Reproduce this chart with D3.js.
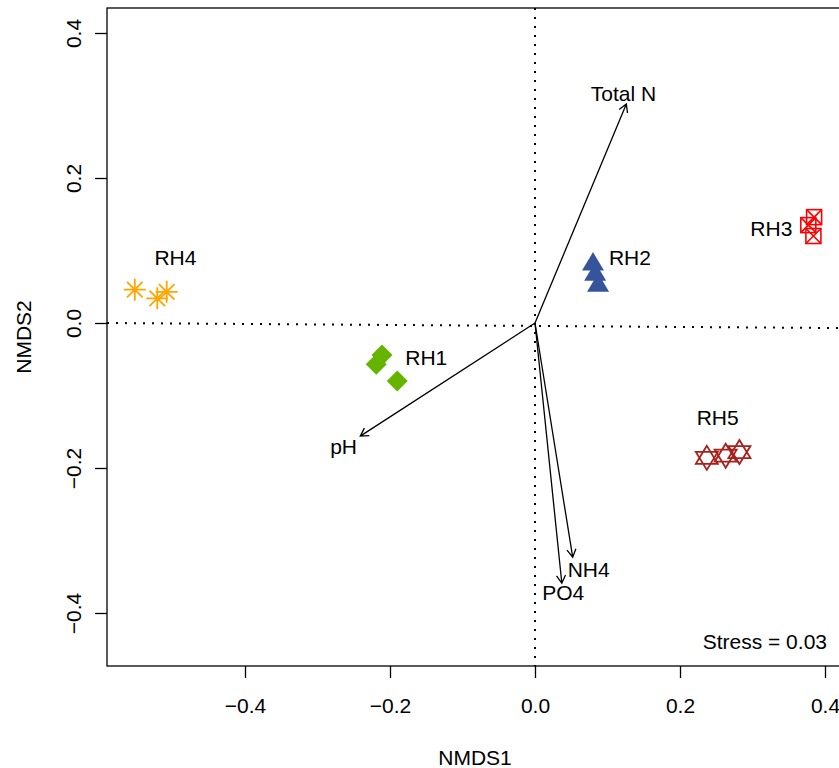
<!DOCTYPE html>
<html>
<head>
<meta charset="utf-8">
<script src="https://cdn.jsdelivr.net/npm/d3@7"></script>
<style>
  body { margin: 0; background: #fff; }
  text { font-family: "Liberation Sans", Arial, sans-serif; }
</style>
</head>
<body>
<div id="chart"></div>
<script>
// SVG size
var svgWidth = 839;
var svgHeight = 768;
var fontSize = 21;

// plot box (right edge runs past the window, as in the reference)
var box = { left: 107, top: 8, right: 843, bottom: 666 };

// ticks
var xTicks = [-0.4, -0.2, 0.0, 0.2, 0.4];
var yTicks = [-0.4, -0.2, 0.0, 0.2, 0.4];

// site scores
var rh4X = [-0.552, -0.521, -0.508];
var rh4Y = [0.046, 0.034, 0.043];
var rh1X = [-0.211, -0.219, -0.190];
var rh1Y = [-0.044, -0.057, -0.080];
var rh2X = [0.080, 0.083, 0.087];
var rh2Y = [0.084, 0.070, 0.055];
var rh3X = [0.385, 0.377, 0.384];
var rh3Y = [0.146, 0.135, 0.120];
var rh5X = [0.237, 0.263, 0.282];
var rh5Y = [-0.186, -0.183, -0.178];

// group labels
var groupNames = ["RH4", "RH1", "RH2", "RH3", "RH5"];
var groupLabelX = [-0.496, -0.150, 0.131, 0.326, 0.252];
var groupLabelY = [0.090, -0.047, 0.091, 0.131, -0.131];

// environmental vectors
var envNames = ["Total N", "pH", "NH4", "PO4"];
var envX = [0.126, -0.241, 0.052, 0.037];
var envY = [0.302, -0.156, -0.323, -0.359];
var envLabelX = [0.122, -0.264, 0.074, 0.039];
var envLabelY = [0.316, -0.170, -0.340, -0.372];

var stressText = "Stress = 0.03";

var x = d3.scaleLinear().domain([-0.4, 0.4]).range([245, 825]);
var y = d3.scaleLinear().domain([-0.4, 0.4]).range([613, 33]);

var svg = d3.select("#chart")
  .append("svg")
  .attr("width", svgWidth)
  .attr("height", svgHeight);

// dotted reference lines
svg.append("line")
  .attr("x1", x(0)).attr("x2", x(0))
  .attr("y1", box.top).attr("y2", box.bottom)
  .attr("stroke", "#000").attr("stroke-width", 2)
  .attr("stroke-dasharray", "2,7");
svg.append("line")
  .attr("x1", box.left).attr("x2", box.right)
  .attr("y1", y(0)).attr("y2", y(-0.007))
  .attr("stroke", "#000").attr("stroke-width", 2)
  .attr("stroke-dasharray", "2,7");

// box
svg.append("rect")
  .attr("x", box.left).attr("y", box.top)
  .attr("width", box.right - box.left).attr("height", box.bottom - box.top)
  .attr("fill", "none").attr("stroke", "#000").attr("stroke-width", 1.3);

// axes
var fmt = d => d3.format(".1f")(d).replace("-", "\u2212");
var bottomAxis = d3.axisBottom(x).tickValues(xTicks).tickSize(12).tickPadding(20).tickFormat(fmt);
var leftAxis = d3.axisLeft(y).tickValues(yTicks).tickSize(12).tickPadding(10).tickFormat(fmt);

var gx = svg.append("g")
  .attr("transform", `translate(0, ${box.bottom})`)
  .call(bottomAxis);
gx.select(".domain").remove();
gx.selectAll("line").attr("stroke-width", 1.3);
gx.selectAll("text").attr("font-size", fontSize).attr("fill", "#000");

var gy = svg.append("g")
  .attr("transform", `translate(${box.left}, 0)`)
  .call(leftAxis);
gy.select(".domain").remove();
gy.selectAll("line").attr("stroke-width", 1.3);
gy.selectAll("text")
  .attr("font-size", fontSize).attr("fill", "#000")
  .attr("text-anchor", "middle")
  .attr("x", null).attr("y", null).attr("dy", null)
  .attr("dominant-baseline", "central")
  .attr("transform", "translate(-34, 0) rotate(-90)");

// axis titles
svg.append("text")
  .attr("x", (box.left + box.right) / 2).attr("y", 757)
  .attr("text-anchor", "middle").attr("dominant-baseline", "central")
  .attr("font-size", fontSize)
  .text("NMDS1");
svg.append("text")
  .attr("transform", `translate(23, ${(box.top + box.bottom) / 2}) rotate(-90)`)
  .attr("text-anchor", "middle").attr("dominant-baseline", "central")
  .attr("font-size", fontSize)
  .text("NMDS2");

// markers
var pts = svg.append("g");

function zipPts(xs, ys) { return xs.map((v, i) => [v, ys[i]]); }

// RH4 asterisks
zipPts(rh4X, rh4Y).forEach(p => {
  var cx = x(p[0]), cy = y(p[1]), a = 11, b = 7.8;
  pts.append("path")
    .attr("d", `M${cx - a},${cy}H${cx + a}M${cx},${cy - a}V${cy + a}` +
               `M${cx - b},${cy - b}L${cx + b},${cy + b}M${cx - b},${cy + b}L${cx + b},${cy - b}`)
    .attr("stroke", "#FFA500").attr("stroke-width", 1.8).attr("fill", "none");
});

// RH1 diamonds
zipPts(rh1X, rh1Y).forEach(p => {
  var cx = x(p[0]), cy = y(p[1]), r = 10.5;
  pts.append("path")
    .attr("d", `M${cx},${cy - r}L${cx + r},${cy}L${cx},${cy + r}L${cx - r},${cy}Z`)
    .attr("fill", "#66B400");
});

// RH2 filled triangles
zipPts(rh2X, rh2Y).forEach(p => {
  var cx = x(p[0]), cy = y(p[1]), w = 11, h = 10;
  pts.append("path")
    .attr("d", `M${cx},${cy - h}L${cx + w},${cy + h * 0.85}L${cx - w},${cy + h * 0.85}Z`)
    .attr("fill", "#36549C");
});

// RH3 boxed crosses
zipPts(rh3X, rh3Y).forEach(p => {
  var cx = x(p[0]), cy = y(p[1]), s = 7.5;
  pts.append("rect")
    .attr("x", cx - s).attr("y", cy - s).attr("width", 2 * s).attr("height", 2 * s)
    .attr("fill", "none").attr("stroke", "#FF0000").attr("stroke-width", 1.6);
  pts.append("path")
    .attr("d", `M${cx - s},${cy - s}L${cx + s},${cy + s}M${cx - s},${cy + s}L${cx + s},${cy - s}`)
    .attr("stroke", "#FF0000").attr("stroke-width", 1.6);
});

// RH5 two-triangle stars
zipPts(rh5X, rh5Y).forEach(p => {
  var cx = x(p[0]), cy = y(p[1]), w = 11, h = 12, k = 6;
  pts.append("path")
    .attr("d", `M${cx},${cy - h}L${cx + w},${cy + k}L${cx - w},${cy + k}Z` +
               `M${cx},${cy + h}L${cx + w},${cy - k}L${cx - w},${cy - k}Z`)
    .attr("fill", "none").attr("stroke", "#A8201C").attr("stroke-width", 1.8);
});

// group labels
svg.append("g").selectAll("text")
  .data(groupNames)
  .enter()
  .append("text")
  .attr("x", (d, i) => x(groupLabelX[i]))
  .attr("y", (d, i) => y(groupLabelY[i]))
  .attr("text-anchor", "middle")
  .attr("dominant-baseline", "central")
  .attr("font-size", fontSize)
  .text(d => d);

// env arrows
var arrows = svg.append("g");
envNames.forEach((n, i) => {
  var x0 = x(0), y0 = y(0), x1 = x(envX[i]), y1 = y(envY[i]);
  var ang = Math.atan2(y1 - y0, x1 - x0), L = 9, A = Math.PI / 6;
  arrows.append("path")
    .attr("d", `M${x0},${y0}L${x1},${y1}` +
               `M${x1 - L * Math.cos(ang - A)},${y1 - L * Math.sin(ang - A)}L${x1},${y1}` +
               `L${x1 - L * Math.cos(ang + A)},${y1 - L * Math.sin(ang + A)}`)
    .attr("fill", "none").attr("stroke", "#000").attr("stroke-width", 1.3);
  arrows.append("text")
    .attr("x", x(envLabelX[i])).attr("y", y(envLabelY[i]))
    .attr("text-anchor", "middle").attr("dominant-baseline", "central")
    .attr("font-size", fontSize)
    .text(n);
});

// stress
svg.append("text")
  .attr("x", 827).attr("y", 641)
  .attr("text-anchor", "end").attr("dominant-baseline", "central")
  .attr("font-size", fontSize)
  .text(stressText);
</script>
</body>
</html>
